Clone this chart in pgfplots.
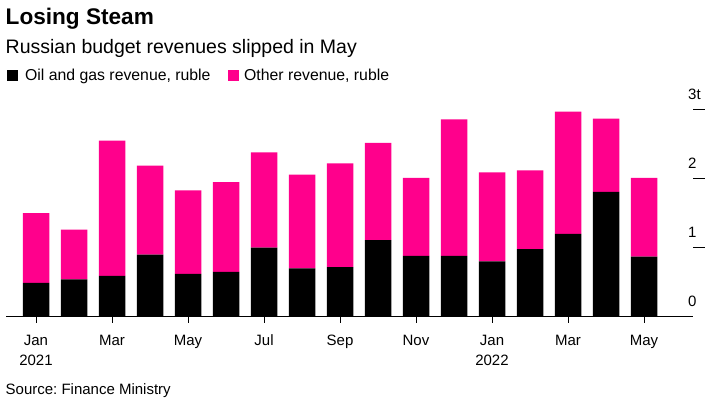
\documentclass[border=0pt]{standalone}
\usepackage{pgfplots}
\pgfplotsset{compat=1.18}
\usepackage{fontspec}
\setmainfont{Liberation Sans}
\definecolor{bpink}{RGB}{255,0,140}
\newcommand{\fs}[1]{\fontsize{#1pt}{#1pt}\selectfont}
\frenchspacing
\begin{document}
\begin{tikzpicture}[x=1pt,y=1pt]
\path[use as bounding box] (0,0) rectangle (705,399);
% titles
\node[anchor=base west,inner sep=0] at (5.5,{399-25}) {\fs{22.6}\bfseries Losing Steam};
\node[anchor=base west,inner sep=0] at (5.5,{399-53.3}) {\fs{19.5}Russian budget revenues slipped in May};
% legend
\fill[black] (7,{399-81}) rectangle (17.5,{399-70.5});
\node[anchor=base west,inner sep=0] at (25,{399-81}) {\fs{15.8}Oil and gas revenue, ruble};
\fill[bpink] (228,{399-81}) rectangle (238.5,{399-70.5});
\node[anchor=base west,inner sep=0] at (244,{399-81}) {\fs{15.8}Other revenue, ruble};
% source
\node[anchor=base west,inner sep=0] at (5.5,{399-395}) {\fs{15}Source: Finance Ministry};
\begin{axis}[
  at={(36pt,82.3pt)}, anchor=origin,
  scale only axis, width=687pt, height=217.4pt,
  xmin=-0.789, xmax=17.29, ymin=0, ymax=3.15,
  ybar stacked, bar width=26.5pt,
  axis x line*=bottom, axis y line*=right,
  x axis line style={-, line width=1.2pt, black},
  y axis line style={draw=none},
  xtick={0,2,...,16},
  xticklabels={Jan\\2021,Mar,May,Jul,Sep,Nov,Jan\\2022,Mar,May},
  xticklabel style={align=center, font=\fontsize{15}{20}\selectfont, inner sep=0pt, anchor=north, yshift=-12pt},
  x tick style={black, line width=0.8pt},
  tick align=outside, major tick length=6pt,
  ytick={0,1,2,3}, yticklabels={0,1,2,3t},
  y tick style={draw=none},
  yticklabel pos=right,
  yticklabel style={font=\fs{15}, inner sep=0pt, anchor=base west, xshift=-11pt, yshift=10.5pt},
  clip=false,
]
\addplot[fill=black, draw=none] coordinates {
(0,0.49) (1,0.54) (2,0.59) (3,0.90) (4,0.62) (5,0.65) (6,1.00) (7,0.70) (8,0.72)
(9,1.11) (10,0.88) (11,0.88) (12,0.80) (13,0.98) (14,1.20) (15,1.81) (16,0.87)};
\addplot[fill=bpink, draw=none] coordinates {
(0,1.01) (1,0.72) (2,1.96) (3,1.29) (4,1.21) (5,1.30) (6,1.38) (7,1.36) (8,1.50)
(9,1.41) (10,1.13) (11,1.98) (12,1.29) (13,1.14) (14,1.77) (15,1.06) (16,1.14)};
\draw[black, line width=0.8pt] (axis cs:17.29,1) -- ++(-11pt,0);
\draw[black, line width=0.8pt] (axis cs:17.29,2) -- ++(-11pt,0);
\draw[black, line width=0.8pt] (axis cs:17.29,3) -- ++(-11pt,0);
\end{axis}
\end{tikzpicture}
\end{document}
